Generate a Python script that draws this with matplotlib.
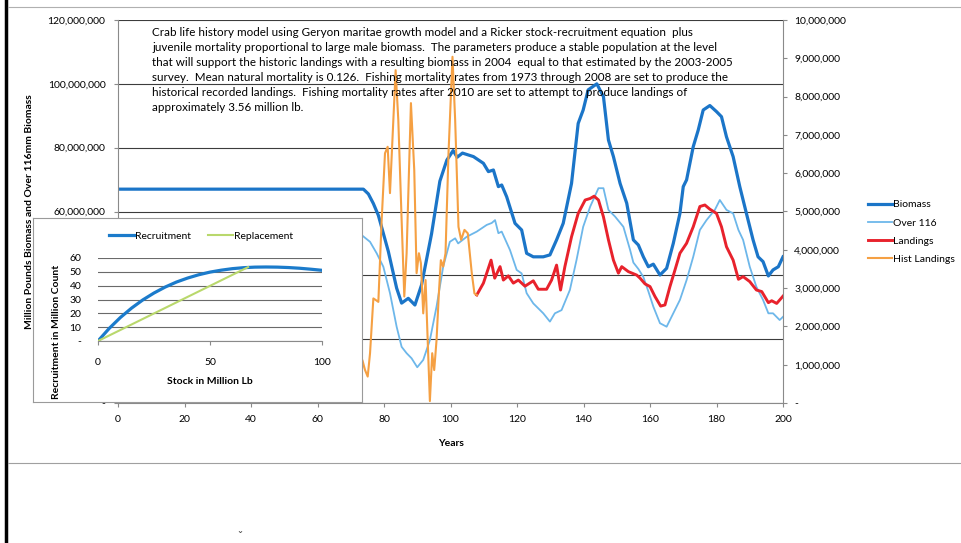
import matplotlib.pyplot as plt
from matplotlib.lines import Line2D
from matplotlib.ticker import FuncFormatter, MultipleLocator

plt.rcParams['font.family'] = ['Lato', 'DejaVu Sans']

# Model output, millions of pounds (biomass series on the left axis)
biomass_x = [0, 73.8, 75.3, 76.8, 78.3, 81.3, 83.8, 85.3, 87.3, 89.3, 91.3, 94.3, 96.8,
             98.9, 100.8, 102.0, 103.6, 106.9, 109.9, 111.4, 112.9, 114.4, 115.4, 116.9,
             119.4, 121.4, 122.9, 124.9, 127.9, 129.9, 131.9, 133.9, 136.4, 138.4, 139.9,
             141.4, 144.0, 146.0, 147.5, 149.0, 151.0, 153.0, 155.0, 156.5, 158.0, 159.5,
             161.0, 163.0, 165.0, 167.0, 169.0, 170.0, 171.0, 173.0, 174.5, 176.0, 178.0,
             180.0, 181.5, 183.0, 185.0, 187.0, 189.0, 191.0, 192.5, 194.0, 195.6, 197.0,
             198.6, 200.0]
biomass = [67.0, 67.0, 65.5, 62.5, 58.8, 47.5, 36.0, 31.3, 32.8, 30.7, 37.0, 53.0, 69.5,
           76.1, 79.1, 77.0, 78.3, 77.2, 75.1, 72.5, 73.0, 67.8, 68.3, 64.6,
           56.3, 54.2, 46.9, 45.8, 45.8, 46.4, 51.1, 56.3, 68.8, 87.6, 91.8,
           98.1, 100.0, 96.0, 82.4, 77.2, 68.8, 62.6, 51.1, 49.5, 45.8, 42.7,
           43.5, 40.1, 42.2, 50.0, 59.4, 67.8, 69.9, 80.3, 85.5, 91.8, 93.2,
           91.3, 89.7, 83.4, 77.2, 67.8, 59.4, 51.1, 45.8, 44.3, 39.8, 41.7,
           42.7, 45.8]

over116_x = [0, 73.3, 75.8, 77.8, 79.8, 81.8, 83.8, 85.3, 86.8, 88.3, 90.0, 91.8, 93.8,
             95.8, 97.8, 99.8, 101.4, 102.3, 104.9, 107.9, 110.9, 112.4, 113.4, 114.4,
             115.4, 117.9, 119.9, 121.4, 122.9, 124.9, 127.9, 129.9, 131.4, 133.4, 135.9,
             137.9, 139.9, 142.0, 144.5, 146.0, 147.5, 149.5, 152.0, 154.0, 155.0, 156.5,
             158.0, 159.5, 161.0, 163.0, 165.0, 167.0, 169.0, 171.0, 173.0, 175.0, 177.0,
             179.5, 181.0, 183.0, 185.0, 186.6, 188.0, 190.0, 192.0, 194.0, 195.6, 197.0,
             199.0, 200.0]
over116 = [53.0, 52.6, 50.5, 46.9, 42.7, 34.4, 23.9, 17.6, 15.6, 14.0, 11.2, 13.5, 19.7,
           30.2, 42.7, 50.5, 51.6, 50.0, 52.1, 53.7, 55.8, 56.4, 57.3, 53.2,
           53.7, 47.9, 41.7, 40.6, 34.4, 31.2, 28.1, 25.5, 28.1, 29.1, 35.4,
           44.8, 55.2, 61.5, 67.3, 67.3, 60.5, 58.4, 55.2, 48.0, 44.0, 42.0,
           39.5, 35.0, 30.2, 25.0, 23.9, 28.1, 32.3, 38.5, 45.8, 54.2, 57.3,
           60.5, 63.6, 60.5, 59.4, 54.2, 51.1, 42.7, 36.4, 32.3, 28.1, 28.1,
           26.0, 27.0]

# Landings, pounds (right axis); no projected landings during the historic years
landings_x = [0, 73, None, 107.9, 109.9, 112.2, 113.3, 114.9, 115.9, 117.4, 118.9, 120.4,
              122.4, 124.9, 126.4, 128.9, 130.4, 131.9, 133.1, 134.4, 136.4, 138.4, 140.5,
              142.0, 143.2, 144.5, 146.0, 147.5, 149.0, 150.5, 151.5, 153.5, 156.0, 157.0,
              158.5, 160.0, 161.5, 163.2, 164.5, 166.0, 167.5, 169.0, 171.0, 173.0, 175.0,
              176.5, 178.0, 180.0, 181.5, 183.0, 185.0, 186.6, 188.0, 190.0, 192.0, 193.6,
              195.6, 196.6, 198.1, 200.0]
landings = [0, 0, None, 2.82, 3.13, 3.73, 3.26, 3.56, 3.21, 3.32, 3.13, 3.21,
            3.05, 3.19, 2.97, 2.97, 3.21, 3.60, 2.95, 3.56, 4.34, 4.95, 5.30,
            5.34, 5.40, 5.30, 4.86, 4.26, 3.73, 3.39, 3.56, 3.43, 3.34, 3.26,
            3.11, 3.04, 2.78, 2.53, 2.56, 3.04, 3.47, 3.91, 4.17, 4.60, 5.13,
            5.17, 5.06, 4.95, 4.60, 4.08, 3.73, 3.23, 3.30, 3.17, 2.95, 2.91,
            2.62, 2.67, 2.60, 2.79]

hist_x = [73.0, 73.5, 74.3, 75.1, 75.8, 76.8, 77.5, 78.3, 79.3, 80.3, 81.1, 81.8, 83.5,
          84.3, 85.3, 86.1, 86.8, 88.1, 89.1, 89.8, 90.5, 91.1, 91.8, 92.5, 93.1, 93.8,
          94.5, 95.1, 95.8, 96.5, 97.1, 97.8, 98.5, 99.4, 100.6, 101.4, 102.4, 103.2,
          104.2, 105.2, 106.4, 107.2, 107.9]
hist_landings = [0.1, 1.12, 0.86, 0.69, 1.30, 2.73, 2.69, 2.64, 4.78, 6.52, 6.69, 5.48, 8.69,
                 7.39, 4.78, 2.78, 3.91, 7.83, 6.08, 3.39, 3.91, 3.65, 2.34, 3.21, 1.73, 0.05,
                 1.30, 0.86, 1.64, 2.86, 3.73, 3.56, 3.91, 6.52, 9.04, 7.39, 4.60, 4.26,
                 4.52, 4.43, 3.39, 2.86, 2.82]

# Stock-recruitment inset
stock = [0, 5, 10, 15, 20, 25, 30, 35, 40, 45, 50, 55, 60, 65, 70, 75, 80, 85, 90, 95, 100]
recruitment = [0, 9.1, 17.0, 23.8, 29.7, 34.7, 39.0, 42.6, 45.5, 47.9, 49.8, 51.2, 52.3,
               53.0, 53.4, 53.5, 53.4, 53.1, 52.6, 51.9, 51.1]
repl_stock = [0, 67]
replacement = [0, 53.4]

note = ("Crab life history model using Geryon maritae growth model and a Ricker stock-recruitment equation  plus\n"
        "juvenile mortality proportional to large male biomass.  The parameters produce a stable population at the level\n"
        "that will support the historic landings with a resulting biomass in 2004  equal to that estimated by the 2003-2005\n"
        "survey.  Mean natural mortality is 0.126.  Fishing mortality rates from 1973 through 2008 are set to produce the\n"
        "historical recorded landings.  Fishing mortality rates after 2010 are set to attempt to produce landings of\n"
        "approximately 3.56 million lb.")

W, H = 961, 543


def fx(px):
    return px / W


def fy(py):
    return 1 - py / H


def money(v, pos):
    return '-' if v == 0 else f'{v * 1e6:,.0f}'


def left_labels(v, pos):
    # 20M and 40M sit behind the inset panel
    if v in (20, 40):
        return ''
    return money(v, pos)


fig = plt.figure(figsize=(W / 100, H / 100), dpi=100)

ax = fig.add_axes([fx(118), fy(403), 665 / W, 383 / H])
ax.set_zorder(1)
ax.plot(biomass_x, biomass, color='#1b75c8', lw=2.3, label='Biomass')
ax.plot(over116_x, over116, color='#6db7ea', lw=1.3, label='Over 116')
ax.set_xlim(0, 200)
ax.set_ylim(0, 120)
ax.set_xticks(range(0, 201, 20))
ax.yaxis.set_major_locator(MultipleLocator(20))
ax.yaxis.set_major_formatter(FuncFormatter(left_labels))
ax.grid(axis='y', color='#3c3c3c', lw=0.8)
for side in ['top', 'right']:
    ax.spines[side].set_visible(False)
for side in ['left', 'bottom']:
    ax.spines[side].set_color('#8a8a8a')
    ax.spines[side].set_linewidth(0.8)
ax.tick_params(direction='out', length=3, color='#8a8a8a', labelsize=7.5, pad=6)

ax2 = ax.twinx()
ax2.set_zorder(2)
ax2.plot(landings_x, landings, color='#e8222c', lw=2.1, label='Landings')
ax2.plot(hist_x, hist_landings, color='#f5a043', lw=1.5, label='Hist Landings')
ax2.set_ylim(0, 10)
ax2.yaxis.set_major_locator(MultipleLocator(1))
ax2.yaxis.set_major_formatter(FuncFormatter(money))
for side in ['top', 'left', 'bottom']:
    ax2.spines[side].set_visible(False)
ax2.spines['right'].set_color('#8a8a8a')
ax2.spines['right'].set_linewidth(0.8)
ax2.tick_params(direction='out', length=3, color='#8a8a8a', labelsize=7.5, pad=5)

h1, l1 = ax.get_legend_handles_labels()
h2, l2 = ax2.get_legend_handles_labels()
fig.legend(h1 + h2, l1 + l2, loc='upper left', bbox_to_anchor=(fx(864), fy(196)),
           frameon=False, fontsize=7.5, handlelength=2.3, handletextpad=0.1,
           labelspacing=0.85, borderaxespad=0)

fig.text(fx(152), fy(26.5), note, fontsize=8.35, va='top', ha='left', linespacing=1.46, zorder=3)
fig.text(fx(451), fy(443), 'Years', ha='center', va='center', weight='bold', fontsize=7.5)
fig.text(fx(30), fy(212), 'Million Pounds Biomass and Over 116mm Biomass', ha='center',
         va='center', rotation=90, weight='bold', fontsize=7.5)

# stock-recruitment inset on a white panel
panel = fig.add_axes([fx(33), fy(401.5), (362 - 33) / W, (401.5 - 218) / H])
panel.set_zorder(5)
panel.set_facecolor('white')
panel.set_xticks([])
panel.set_yticks([])
for s in panel.spines.values():
    s.set_color('#9a9a9a')
    s.set_linewidth(0.8)

inner = fig.add_axes([fx(98), fy(341), 224 / W, 83 / H])
inner.set_zorder(6)
inner.patch.set_alpha(0)
inner.plot(stock, recruitment, color='#1b7bcb', lw=2.3, label='Recruitment')
inner.plot(repl_stock, replacement, color='#b9d86c', lw=1.5, label='Replacement')
inner.set_xlim(0, 100)
inner.set_ylim(0, 60)
inner.set_xticks([0, 50, 100])
inner.set_yticks(range(0, 61, 10))
inner.yaxis.set_major_formatter(FuncFormatter(lambda v, p: '-' if v == 0 else f'{v:.0f}'))
inner.grid(axis='y', color='#6a6a6a', lw=0.8)
for side in ['top', 'right', 'left']:
    inner.spines[side].set_visible(False)
inner.spines['bottom'].set_color('#8a8a8a')
inner.tick_params(axis='x', direction='out', length=3, color='#8a8a8a', labelsize=7.5, pad=9)
inner.tick_params(axis='y', length=0, labelsize=7.5, pad=12)
inner.legend(loc='center left', bbox_to_anchor=(fx(105), fy(236)), bbox_transform=fig.transFigure,
             ncol=2, frameon=False, fontsize=7.5, handlelength=2.4, handletextpad=0.1,
             columnspacing=1.6, borderaxespad=0)

fig.text(fx(210), fy(382), 'Stock in Million Lb', ha='center', va='center', weight='bold',
         fontsize=7.5, zorder=7)
fig.text(fx(57), fy(332), 'Recruitment in Million Count', ha='center', va='center',
         rotation=90, weight='bold', fontsize=7.5, zorder=7)

# page edges
fig.add_artist(Line2D([fx(6), fx(6)], [0, 1], color='black', lw=2.5))
fig.add_artist(Line2D([fx(8), 1], [fy(7), fy(7)], color='#b0b0b0', lw=0.8))
fig.add_artist(Line2D([fx(8), 1], [fy(463), fy(463)], color='#a0a0a0', lw=0.8))
fig.text(fx(240), fy(537), 'ˇ', ha='center', va='center', fontsize=9, color='#555555')

fig.savefig('out.png', dpi=100)
